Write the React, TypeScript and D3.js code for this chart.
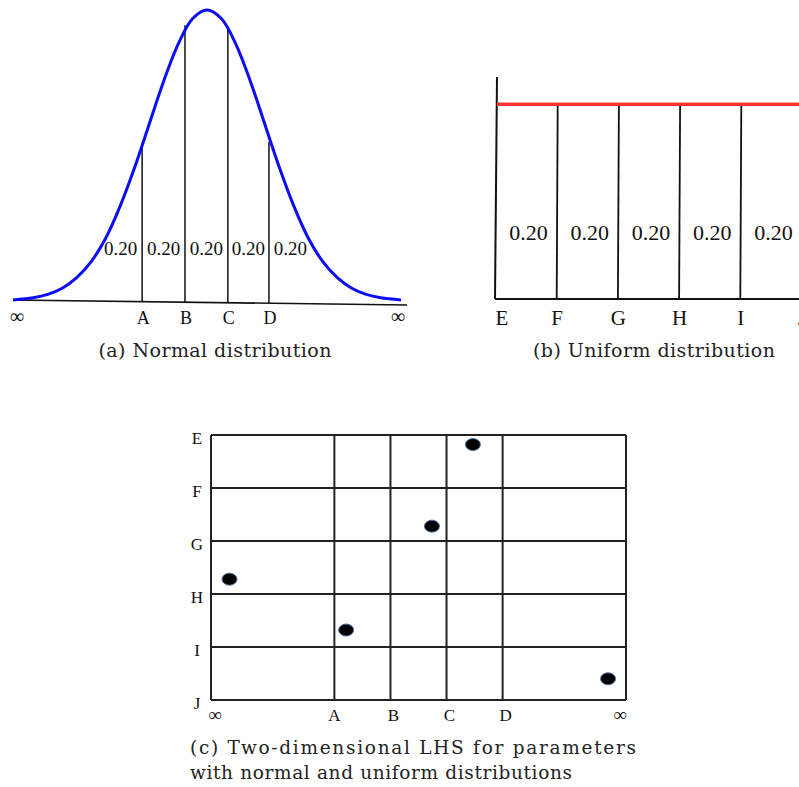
import React from "react";
import * as d3 from "d3";

// (a) normal curve (z, density)
const normZ = [-3.35, -3, -2.75, -2.5, -2.25, -2, -1.75, -1.5, -1.25, -1, -0.75, -0.5, -0.25, 0, 0.25, 0.5, 0.75, 1, 1.25, 1.5, 1.75, 2, 2.25, 2.5, 2.75, 3, 3.35];
const normDensity = [0.0015, 0.0044, 0.009, 0.0175, 0.032, 0.054, 0.086, 0.13, 0.183, 0.242, 0.301, 0.352, 0.387, 0.399, 0.387, 0.352, 0.301, 0.242, 0.183, 0.13, 0.086, 0.054, 0.032, 0.0175, 0.009, 0.0044, 0.0015];
const normCuts = ["A", "B", "C", "D"];
const normCutZ = [-1.12, -0.38, 0.36, 1.07];
const normCutTop = [0.217, 0.378, 0.374, 0.218];
const probs = ["0.20", "0.20", "0.20", "0.20", "0.20"];

// (b) uniform
const uniCats = ["E", "F", "G", "H", "I", "J"];
const uniBounds = [0, 0.2, 0.4, 0.6, 0.8, 1.0];
const uniDensity = 1.0;

// (c) LHS grid
const colLabels = ["\u221e", "A", "B", "C", "D", "\u221e"];
const colBounds = [0, 2.2, 3.2, 4.2, 5.2, 7.4];
const rowLabels = ["E", "F", "G", "H", "I", "J"];
const rowBounds = [0, 1, 2, 3, 4, 5];
const sampleX = [4.67, 3.94, 0.33, 2.41, 7.08];
const sampleY = [0.18, 1.72, 2.72, 3.68, 4.6];

const serif = "'Liberation Serif', 'Times New Roman', serif";
const capFont = "'DejaVu Serif', serif";

function NormalPanel() {
  const x = d3.scaleLinear().domain([-3.35, 3.35]).range([13, 401]);
  const y = d3.scaleLinear().domain([0, 0.399]).range([301, 10]);
  // baseline drawn slightly tilted like the source
  const baseY = (px: number) => 300 + ((px - 13) / 394) * 5;
  const line = d3
    .line<number>()
    .x((_, i) => x(normZ[i]))
    .y((d) => y(d))
    .curve(d3.curveCatmullRom);
  const cx = normCutZ.map((z) => x(z));
  const half = (cx[1] - cx[0]) / 2;
  const probX = [cx[0] - half, (cx[0] + cx[1]) / 2, (cx[1] + cx[2]) / 2, (cx[2] + cx[3]) / 2, cx[3] + half];
  return (
    <g>
      <line x1={13} y1={baseY(13)} x2={407} y2={baseY(407)} stroke="#111" strokeWidth={1.6} />
      {normCutZ.map((z, i) => (
        <line key={i} x1={x(z)} x2={x(z)} y1={y(normCutTop[i])} y2={baseY(x(z))} stroke="#111" strokeWidth={1.5} />
      ))}
      <path d={line(normDensity) || ""} fill="none" stroke="#0c0cf5" strokeWidth={3} />
      {probs.map((p, i) => (
        <text key={i} x={probX[i]} y={255} textAnchor="middle" fontFamily={serif} fontSize={19} fill="#111">
          {p}
        </text>
      ))}
      <text x={17} y={323} textAnchor="middle" fontFamily={serif} fontSize={20} fill="#111">{"\u221e"}</text>
      <text x={398} y={323} textAnchor="middle" fontFamily={serif} fontSize={20} fill="#111">{"\u221e"}</text>
      {normCuts.map((c, i) => (
        <text key={c} x={cx[i] + 1} y={324} textAnchor="middle" fontFamily={serif} fontSize={18} fill="#111">
          {c}
        </text>
      ))}
      <text x={215} y={357} textAnchor="middle" fontFamily={capFont} fontSize={19} fill="#222" textLength={233}>
        (a) Normal distribution
      </text>
    </g>
  );
}

function UniformPanel() {
  const x = d3.scaleLinear().domain([0, 1]).range([496, 802]);
  const y = d3.scaleLinear().domain([0, 1.14]).range([299, 77]);
  return (
    <g>
      <line x1={497} y1={y(1.14)} x2={495} y2={y(0)} stroke="#111" strokeWidth={2} />
      <line x1={495} y1={y(0)} x2={799} y2={y(0)} stroke="#111" strokeWidth={2} />
      {uniBounds.slice(1).map((b, i) => (
        <line key={i} x1={x(b) + 0.5} x2={x(b) - 0.5} y1={y(uniDensity)} y2={y(0)} stroke="#111" strokeWidth={1.8} />
      ))}
      <line x1={x(0) + 1} x2={799} y1={y(uniDensity)} y2={y(uniDensity)} stroke="#ff3535" strokeWidth={3.5} />
      {probs.map((p, i) => (
        <text key={i} x={(x(uniBounds[i]) + x(uniBounds[i + 1])) / 2 + 2} y={240} textAnchor="middle" fontFamily={serif} fontSize={22} fill="#111">
          {p}
        </text>
      ))}
      {uniCats.map((c, i) => (
        <text key={c} x={x(uniBounds[i]) + (i === 0 ? 6 : 0)} y={325} textAnchor="middle" fontFamily={serif} fontSize={21} fill="#111">
          {c}
        </text>
      ))}
      <text x={654} y={357} textAnchor="middle" fontFamily={capFont} fontSize={19} fill="#222" textLength={242}>
        (b) Uniform distribution
      </text>
    </g>
  );
}

function LhsPanel() {
  const x = d3.scaleLinear().domain([0, 7.4]).range([211, 626]);
  const y = d3.scaleLinear().domain([0, 5]).range([435, 700]);
  return (
    <g>
      {colBounds.map((b, i) => (
        <line key={"c" + i} x1={x(b)} x2={x(b)} y1={y(0)} y2={y(5)} stroke="#222" strokeWidth={2} />
      ))}
      {rowBounds.map((b, i) => (
        <line key={"r" + i} x1={x(0)} x2={x(7.4)} y1={y(b)} y2={y(b)} stroke="#222" strokeWidth={2} />
      ))}
      {sampleX.map((sx, i) => (
        <ellipse key={i} cx={x(sx)} cy={y(sampleY[i])} rx={7.5} ry={6} fill="#000" stroke="#4a6fa5" strokeWidth={1} />
      ))}
      {rowLabels.map((r, i) => (
        <text key={r} x={197} y={y(rowBounds[i]) + 3} dominantBaseline="central" textAnchor="middle" fontFamily={serif} fontSize={17} fill="#111">
          {r}
        </text>
      ))}
      {colLabels.map((c, i) => {
        const px = x(colBounds[i]) + (i === 0 ? 4 : i === colLabels.length - 1 ? -6 : i === 1 ? 0 : 3);
        return (
          <text key={i} x={px} y={721} textAnchor="middle" fontFamily={serif} fontSize={c === "\u221e" ? 19 : 17} fill="#111">
            {c}
          </text>
        );
      })}
      <text x={190} y={754} fontFamily={capFont} fontSize={18.5} fill="#222" textLength={446}>
        (c) Two-dimensional LHS for parameters
      </text>
      <text x={190} y={779} fontFamily={capFont} fontSize={18.5} fill="#222" textLength={382}>
        with normal and uniform distributions
      </text>
    </g>
  );
}

export default function App() {
  return (
    <svg
      width={799}
      height={787}
      style={{ position: "absolute", left: 0, top: 0, background: "#fff" }}
    >
      <rect width={799} height={787} fill="#fff" />
      <NormalPanel />
      <UniformPanel />
      <LhsPanel />
    </svg>
  );
}
